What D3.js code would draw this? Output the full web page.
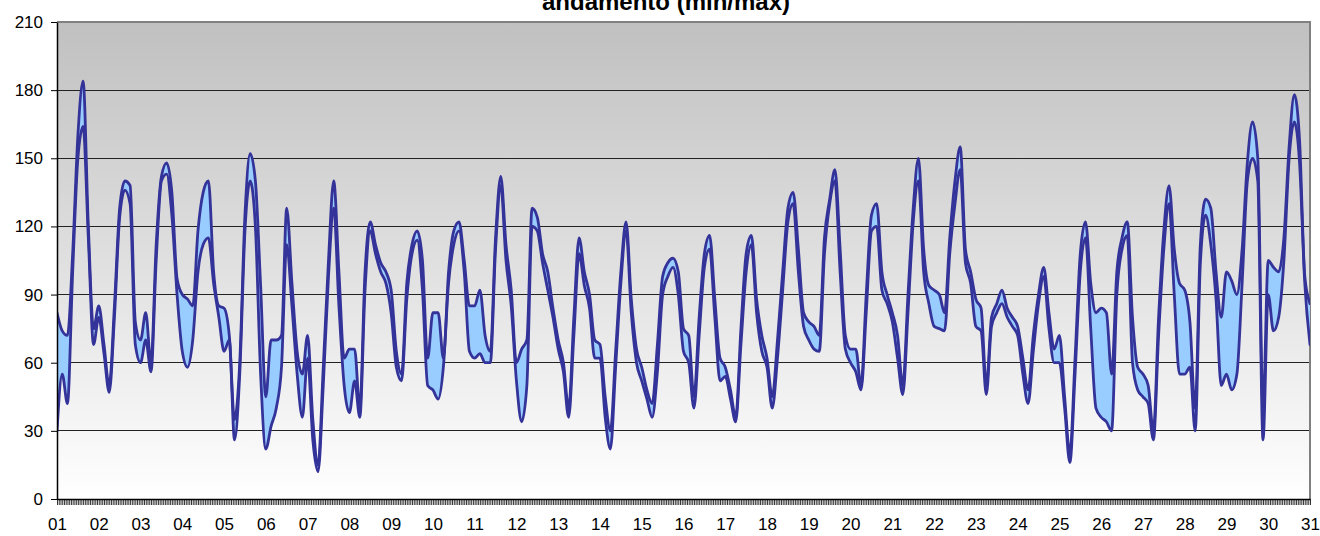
<!DOCTYPE html>
<html>
<head>
<meta charset="utf-8">
<script src="https://cdn.jsdelivr.net/npm/d3@7"></script>
<style>
  html, body { margin: 0; padding: 0; background: #fff; }
  svg { display: block; font-family: Arial, "Liberation Sans", sans-serif; }
</style>
</head>
<body>
<svg id="chart" width="1320" height="536"></svg>
<script>
// ---- DATA (3-hourly samples, 8 per day, plus final point) ----
const title = "andamento (min/max)";
const dayLabels = ["01","02","03","04","05","06","07","08","09","10","11","12","13","14","15","16","17","18","19","20","21","22","23","24","25","26","27","28","29","30","31"];
const yTicks = [0, 30, 60, 90, 120, 150, 180, 210];
const hoursPerSample = 3;

const maxVals = [
  82,74,72,108,160,184,120,75,
  85,68,50,85,128,140,138,78,
  70,82,60,112,142,148,135,97,
  90,88,85,118,135,140,100,85,
  84,72,35,60,125,152,140,94,
  45,70,70,72,128,95,65,55,
  72,35,15,58,105,140,100,62,
  66,66,40,100,122,112,104,100,
  92,65,55,95,112,118,105,62,
  82,82,62,100,118,122,105,85,
  85,92,72,65,115,142,112,92,
  60,66,70,128,124,108,100,84,
  70,60,40,80,115,100,90,70,
  68,45,30,65,100,122,88,66,
  58,48,42,68,98,104,106,100,
  75,72,45,80,108,116,88,62,
  58,48,36,75,108,116,88,72,
  62,45,70,100,128,135,110,82,
  78,76,72,115,132,145,110,72,
  66,66,50,90,125,130,100,90,
  82,72,50,90,128,150,110,94,
  92,90,82,115,140,155,110,100,
  88,84,50,80,86,92,84,80,
  76,62,48,72,90,102,82,66,
  72,45,20,62,108,122,95,82,
  84,82,55,100,115,122,80,58,
  55,50,30,80,118,138,110,95,
  92,78,40,112,132,128,100,80,
  100,96,90,110,148,166,150,40,
  105,102,100,115,155,178,158,98,
  86
];
const minVals = [
  30,55,42,100,150,164,115,68,
  80,64,47,80,124,136,130,68,
  60,70,56,105,140,143,125,90,
  65,58,70,100,112,115,95,80,
  65,70,26,55,118,140,120,55,
  22,32,40,58,112,85,55,36,
  62,26,12,50,98,128,85,50,
  38,52,36,92,118,108,100,95,
  82,58,52,88,108,114,92,50,
  48,44,58,95,112,118,100,65,
  62,64,60,60,110,138,105,85,
  52,34,50,120,118,104,92,80,
  66,56,36,72,108,94,84,62,
  62,36,22,58,95,118,82,60,
  52,44,36,56,90,98,102,90,
  65,60,40,72,102,110,80,52,
  54,44,34,68,100,112,82,65,
  58,40,62,92,122,130,100,76,
  70,66,65,108,130,140,100,66,
  60,56,48,82,118,120,92,86,
  78,62,46,82,122,140,100,86,
  76,75,74,108,130,145,104,95,
  76,74,46,76,82,86,80,76,
  72,55,42,65,86,98,75,60,
  60,40,16,55,100,115,75,40,
  36,34,30,90,110,116,60,48,
  45,42,26,72,110,130,90,55,
  55,58,30,104,125,112,88,50,
  55,48,55,95,140,150,140,26,
  90,74,80,105,150,166,148,95,
  68
];

// ---- LAYOUT ----
const svg = d3.select("#chart");
const L = 57, T = 22, R = 1310, B = 499;
const totalHours = (dayLabels.length - 1) * 24;

const x = d3.scaleLinear().domain([0, totalHours]).range([L, R]);
const y = d3.scaleLinear().domain([0, 210]).range([B, T]);

const data = maxVals.map((v, i) => ({ h: i * hoursPerSample, max: v, min: minVals[i] }));

// background gradient
const defs = svg.append("defs");
const grad = defs.append("linearGradient").attr("id", "bg").attr("x1", 0).attr("y1", 0).attr("x2", 0).attr("y2", 1);
grad.append("stop").attr("offset", "0%").attr("stop-color", "#c0c0c0");
grad.append("stop").attr("offset", "100%").attr("stop-color", "#ffffff");
defs.append("clipPath").attr("id", "clip").append("rect")
  .attr("x", L).attr("y", T - 2).attr("width", R - L).attr("height", B - T + 2);

svg.append("rect").attr("x", L).attr("y", T).attr("width", R - L).attr("height", B - T).attr("fill", "url(#bg)");

// gridlines
svg.append("g").selectAll("line").data(yTicks.filter(v => v > 0 && v < 210)).join("line")
  .attr("x1", L).attr("x2", R).attr("y1", d => y(d)).attr("y2", d => y(d))
  .attr("stroke", "#222").attr("stroke-width", 1).attr("shape-rendering", "crispEdges");

// borders top/right (grey)
svg.append("line").attr("x1", L).attr("x2", R + 1).attr("y1", T).attr("y2", T)
  .attr("stroke", "#808080").attr("stroke-width", 2);
svg.append("line").attr("x1", R).attr("x2", R).attr("y1", T).attr("y2", B)
  .attr("stroke", "#808080").attr("stroke-width", 2);

// area and lines
const curve = d3.curveMonotoneX;
const g = svg.append("g").attr("clip-path", "url(#clip)");
g.append("path").datum(data)
  .attr("d", d3.area().curve(curve).x(d => x(d.h)).y0(d => y(d.min)).y1(d => y(d.max)))
  .attr("fill", "#99ccff");
const lineStyle = p => p.attr("fill", "none").attr("stroke", "#333399").attr("stroke-width", 2.8)
  .attr("stroke-linejoin", "round").attr("stroke-linecap", "round");
g.append("path").datum(data).attr("d", d3.line().curve(curve).x(d => x(d.h)).y(d => y(d.max))).call(lineStyle);
g.append("path").datum(data).attr("d", d3.line().curve(curve).x(d => x(d.h)).y(d => y(d.min))).call(lineStyle);

// y axis
const yAxis = svg.append("g").attr("transform", `translate(${L},0)`)
  .call(d3.axisLeft(y).tickValues(yTicks).tickSize(6).tickPadding(8).tickSizeOuter(0));
yAxis.select(".domain").attr("stroke", "#000").attr("stroke-width", 1.5);
yAxis.selectAll(".tick line").attr("stroke", "#000");
yAxis.selectAll("text").attr("font-size", 17).attr("fill", "#000")
  .attr("font-family", "Arial, 'Liberation Sans', sans-serif");

// x axis hourly ticks
const xMinor = svg.append("g").attr("transform", `translate(0,${B})`)
  .call(d3.axisBottom(x).tickValues(d3.range(0, totalHours + 1)).tickSize(6).tickFormat("").tickSizeOuter(0));
xMinor.select(".domain").attr("stroke", "#000").attr("stroke-width", 1.5);
xMinor.selectAll(".tick line").attr("stroke", "#000").attr("stroke-width", 0.8);

// x labels
const xLab = svg.append("g").attr("transform", `translate(0,${B})`)
  .call(d3.axisBottom(x).tickValues(dayLabels.map((d, i) => i * 24))
    .tickFormat((d, i) => dayLabels[i]).tickSize(0).tickPadding(19));
xLab.select(".domain").remove();
xLab.selectAll("text").attr("font-size", 17).attr("fill", "#000")
  .attr("font-family", "Arial, 'Liberation Sans', sans-serif");

// title
svg.append("text").attr("x", 666).attr("y", 10).attr("text-anchor", "middle")
  .attr("font-size", 24).attr("font-weight", "bold").attr("fill", "#000").text(title);
</script>
</body>
</html>
